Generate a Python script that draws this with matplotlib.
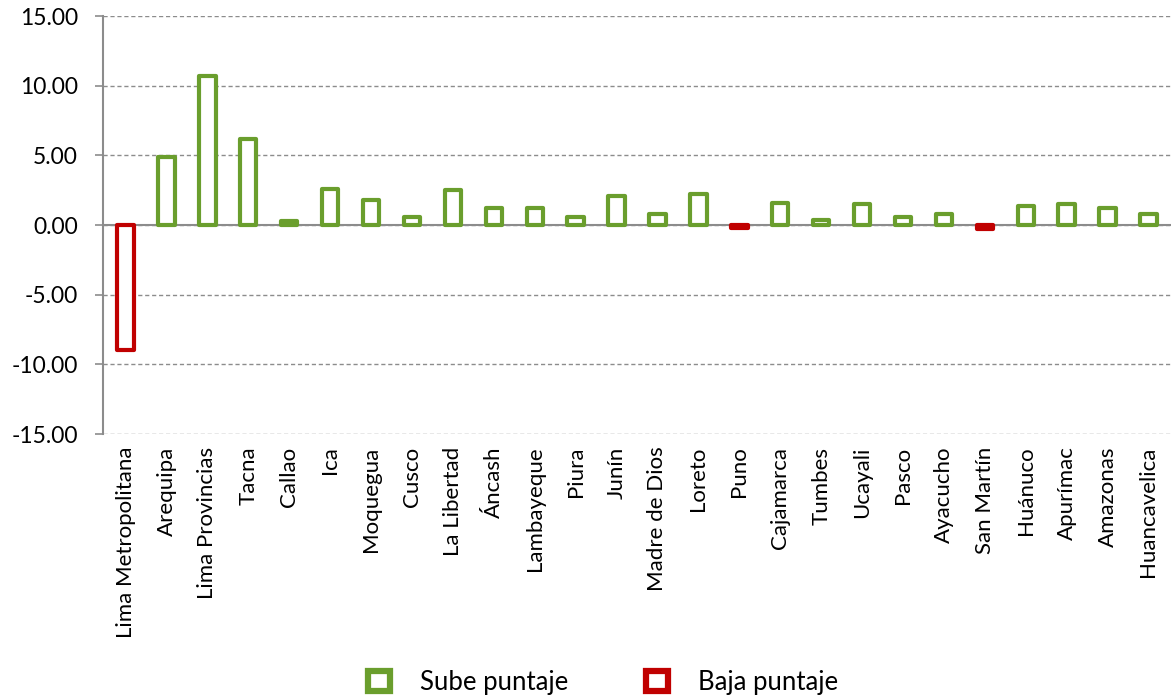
import matplotlib

matplotlib.use("Agg")
import matplotlib.pyplot as plt
from matplotlib.patches import Patch
from matplotlib.ticker import FuncFormatter

regions = [
    "Lima Metropolitana", "Arequipa", "Lima Provincias", "Tacna", "Callao",
    "Ica", "Moquegua", "Cusco", "La Libertad", "Áncash", "Lambayeque",
    "Piura", "Junín", "Madre de Dios", "Loreto", "Puno", "Cajamarca",
    "Tumbes", "Ucayali", "Pasco", "Ayacucho", "San Martín", "Huánuco",
    "Apurímac", "Amazonas", "Huancavelica",
]
change = [
    -9.0, 4.9, 10.7, 6.2, 0.3, 2.6, 1.8, 0.6, 2.5, 1.2, 1.2,
    0.6, 2.1, 0.8, 2.2, -0.2, 1.6,
    0.4, 1.5, 0.6, 0.8, -0.3, 1.4,
    1.5, 1.2, 0.8,
]
yticks = [15, 10, 5, 0, -5, -10, -15]

GREEN = "#6a9e2d"
RED = "#c00000"
GRID = "#8c8c8c"

plt.rcParams["font.family"] = ["Lato", "DejaVu Sans"]

fig = plt.figure(figsize=(11.71, 6.99), dpi=100)
ax = fig.add_axes([0.088, 0.379, 0.912, 0.598])

colors = [GREEN if v >= 0 else RED for v in change]
x = range(len(regions))
ax.bar(x, change, width=0.4, color="white", edgecolor=colors,
       linewidth=3, joinstyle="round", zorder=3)

ax.set_xlim(-0.55, len(regions) - 0.45)
ax.set_ylim(-15, 15)
ax.set_yticks(yticks)
ax.yaxis.set_major_formatter(FuncFormatter(lambda v, p: f"{v:.2f}"))
ax.grid(axis="y", linestyle=(0, (3, 2)), color=GRID, linewidth=1, zorder=0)
ax.axhline(0, color=GRID, linewidth=1.5, zorder=2)

for s in ["top", "right", "bottom"]:
    ax.spines[s].set_visible(False)
ax.spines["left"].set_color(GRID)
ax.spines["left"].set_linewidth(1.5)
ax.tick_params(axis="y", colors=GRID, labelcolor="black", labelsize=16.5,
               length=6, width=1.2, pad=12)
ax.set_xticks(list(x))
ax.set_xticklabels(regions, rotation=90, fontsize=16)
ax.tick_params(axis="x", length=0, pad=9)

handles = [
    Patch(facecolor="white", edgecolor=GREEN, linewidth=4.5, label="Sube puntaje"),
    Patch(facecolor="white", edgecolor=RED, linewidth=4.5, label="Baja puntaje"),
]
fig.legend(handles=handles, loc="lower center", bbox_to_anchor=(0.515, -0.027),
           ncol=2, frameon=False, fontsize=18.5, handlelength=0.85,
           handleheight=0.85, handletextpad=1.2, columnspacing=3)

fig.savefig("out.png", dpi=100)
